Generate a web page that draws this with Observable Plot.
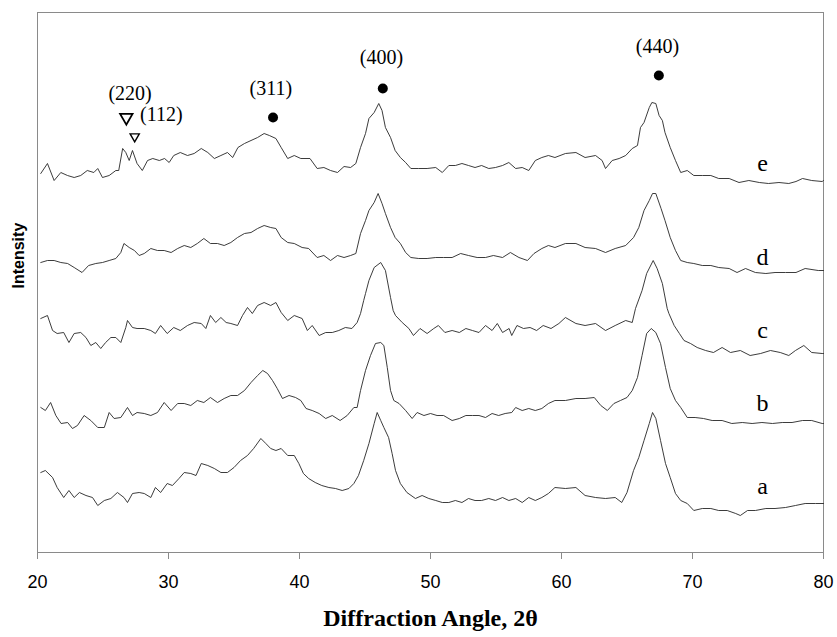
<!DOCTYPE html>
<html><head><meta charset="utf-8">
<script src="https://cdn.jsdelivr.net/npm/d3@7"></script>
<script src="https://cdn.jsdelivr.net/npm/@observablehq/plot@0.6"></script>
<style>body{margin:0;background:#fff}</style>
</head><body><div id="chart"></div>
<script>
// [2θ angle, intensity (arb. units, offset per trace)]
const traceA = [[20.25,80],[20.6,82],[21.15,75],[21.5,65],[22.0,55],[22.4,62],[22.8,55],[23.2,60],[23.7,57],[24.2,55],[24.6,47],[25.1,52],[25.6,54],[26.1,60],[26.6,55],[26.87,50],[27.25,59],[27.76,60],[28.15,59],[28.65,55],[29.0,65],[29.4,60],[29.9,69],[30.3,67],[30.8,74],[31.2,80],[31.7,79],[32.1,77],[32.5,89],[33.0,87],[33.5,84],[34.0,80],[34.5,80],[35.0,85],[35.5,92],[36.03,97],[36.5,104],[37.05,114],[37.43,109],[37.8,104],[38.2,102],[38.6,104],[39.1,97],[39.6,97],[39.95,89],[40.3,79],[40.7,74],[41.2,70],[41.7,67],[42.24,65],[42.75,64],[43.26,62],[43.77,64],[44.15,69],[44.5,77],[44.9,92],[45.3,109],[45.7,129],[45.93,140],[46.2,132],[46.44,125],[46.8,115],[47.07,99],[47.33,82],[47.7,69],[48.2,60],[48.85,54],[49.36,57],[49.87,54],[50.4,52],[50.9,50],[51.4,50],[51.9,52],[52.4,50],[52.9,54],[53.4,52],[53.9,52],[54.45,54],[54.96,52],[55.5,55],[55.98,52],[56.5,54],[57.0,50],[57.5,55],[58.0,52],[58.5,55],[59.0,59],[59.5,65],[60.3,64],[61.1,65],[61.8,57],[62.6,55],[63.36,54],[64.1,55],[64.6,50],[65.0,60],[65.5,82],[65.9,95],[66.3,112],[66.7,129],[66.95,140],[67.2,134],[67.56,112],[67.94,89],[68.3,75],[68.7,59],[69.1,52],[69.6,49],[70.1,42],[70.75,44],[71.4,44],[72.0,42],[72.65,42],[73.3,39],[73.65,37],[74.2,42],[74.8,42],[75.6,44],[76.3,44],[77.1,45],[77.86,47],[78.6,49],[79.4,49],[80.0,49]];
const traceB = [[20.25,145],[20.6,142],[21.0,150],[21.4,137],[21.8,129],[22.3,130],[22.67,124],[23.05,127],[23.56,137],[24.07,132],[24.6,125],[25.1,125],[25.47,140],[25.85,134],[26.36,135],[26.87,145],[27.25,137],[27.6,140],[28.15,139],[28.65,137],[29.16,140],[29.67,150],[30.2,142],[30.7,149],[31.2,149],[31.7,147],[32.2,152],[32.7,150],[33.2,155],[33.74,150],[34.25,154],[34.76,157],[35.27,157],[35.8,162],[36.3,170],[36.8,177],[37.2,182],[37.56,179],[37.94,172],[38.3,164],[38.7,154],[39.2,157],[39.7,155],[40.1,152],[40.5,144],[40.97,142],[41.5,139],[42.0,134],[42.5,137],[43.1,132],[43.64,137],[44.15,145],[44.4,145],[44.66,162],[45.04,182],[45.42,197],[45.8,209],[46.2,210],[46.44,207],[46.7,185],[46.95,162],[47.2,152],[47.6,149],[48.1,142],[48.6,134],[48.98,140],[49.5,137],[50.0,139],[50.5,137],[51.0,137],[51.65,132],[52.2,134],[52.7,137],[53.2,137],[53.7,137],[54.2,135],[54.7,139],[55.2,137],[55.7,139],[56.2,140],[56.5,145],[57.0,142],[57.5,144],[58.0,142],[58.5,144],[59.0,149],[59.5,152],[60.3,152],[61.1,154],[61.8,154],[62.5,155],[63.0,147],[63.5,142],[64.0,149],[64.5,152],[65.0,155],[65.4,162],[65.8,175],[66.15,197],[66.5,219],[66.85,224],[67.2,220],[67.56,209],[67.94,185],[68.3,164],[68.7,152],[69.1,145],[69.6,135],[70.2,135],[70.84,134],[71.5,132],[72.26,132],[73.0,129],[73.8,130],[74.55,129],[75.3,130],[76.1,129],[76.85,130],[77.6,130],[78.4,132],[79.1,132],[79.9,129],[80.0,129]];
const traceC = [[20.25,234],[20.76,237],[21.15,222],[21.5,219],[22.0,220],[22.4,210],[22.8,219],[23.3,220],[23.7,215],[24.07,207],[24.45,210],[24.83,204],[25.2,210],[25.6,215],[25.98,215],[26.36,210],[26.74,225],[26.87,232],[27.25,225],[27.6,224],[28.15,224],[28.65,222],[29.0,219],[29.4,227],[29.9,219],[30.4,225],[30.9,222],[31.45,227],[31.96,230],[32.5,229],[32.85,224],[33.2,237],[33.6,230],[34.0,235],[34.4,230],[34.76,229],[35.27,227],[35.65,237],[36.03,245],[36.4,239],[36.8,247],[37.3,250],[37.8,247],[38.2,250],[38.6,240],[39.1,232],[39.6,237],[40.2,234],[40.6,222],[40.97,227],[41.5,217],[42.0,220],[42.5,220],[43.0,222],[43.5,225],[44.0,224],[44.4,230],[44.66,239],[44.9,252],[45.04,259],[45.3,272],[45.7,285],[46.2,290],[46.56,282],[46.95,255],[47.15,242],[47.33,237],[47.84,230],[48.35,224],[48.7,217],[49.2,224],[49.74,219],[50.25,224],[50.6,227],[51.1,220],[51.65,222],[52.2,220],[52.7,224],[53.2,222],[53.7,220],[54.2,227],[54.7,222],[55.1,229],[55.5,220],[56.0,224],[56.2,217],[56.6,227],[57.1,224],[57.6,225],[58.1,222],[58.6,227],[59.2,224],[59.8,229],[60.3,235],[61.1,229],[61.8,227],[62.6,229],[63.36,222],[64.1,227],[64.9,232],[65.4,230],[65.65,244],[66.15,262],[66.5,279],[67.0,292],[67.3,284],[67.7,269],[68.07,244],[68.2,239],[68.6,227],[69.0,219],[69.35,212],[69.85,209],[70.36,205],[71.0,202],[71.6,200],[72.26,205],[72.9,200],[73.65,202],[74.4,197],[75.2,199],[75.95,202],[76.7,200],[77.35,197],[77.86,202],[78.5,207],[79.1,200],[79.9,199],[80.0,199]];
const traceD = [[20.25,290],[20.76,292],[21.27,292],[21.78,290],[22.3,289],[22.8,285],[23.4,280],[23.9,287],[24.45,289],[24.96,290],[25.47,292],[25.98,294],[26.36,300],[26.6,309],[27.0,305],[27.4,302],[27.76,297],[28.15,299],[28.65,304],[29.16,302],[29.67,302],[30.2,300],[30.7,304],[31.2,307],[31.7,305],[32.2,309],[32.7,314],[33.2,309],[33.74,309],[34.25,307],[34.76,310],[35.27,315],[35.8,319],[36.3,320],[36.8,324],[37.3,327],[37.8,325],[38.2,324],[38.6,315],[39.1,310],[39.6,309],[40.2,305],[40.7,304],[41.35,295],[41.86,297],[42.37,292],[42.9,297],[43.4,295],[43.9,297],[44.3,299],[44.66,319],[45.04,332],[45.3,342],[45.7,350],[46.0,359],[46.3,349],[46.56,339],[46.95,325],[47.3,315],[47.7,309],[48.1,300],[48.5,295],[49.1,294],[49.74,294],[50.4,295],[51.0,295],[51.65,295],[52.3,299],[52.9,297],[53.56,295],[54.2,295],[54.8,297],[55.5,295],[56.1,300],[56.75,295],[57.4,292],[57.9,299],[58.5,304],[59.0,307],[59.5,305],[60.3,309],[61.1,309],[61.8,305],[62.6,304],[63.36,300],[64.1,304],[64.9,307],[65.5,315],[65.9,325],[66.3,342],[66.7,352],[66.95,359],[67.2,359],[67.6,344],[67.9,332],[68.3,315],[68.7,302],[69.1,292],[69.6,290],[70.1,289],[70.75,287],[71.4,287],[72.0,285],[72.8,284],[73.4,280],[74.05,284],[74.8,280],[75.6,279],[76.3,280],[77.1,280],[77.9,280],[78.6,284],[79.6,282],[80.0,282]];
const traceE = [[20.25,379],[20.76,389],[21.27,372],[21.78,380],[22.29,377],[22.8,375],[23.3,377],[23.8,382],[24.3,380],[24.6,384],[24.96,375],[25.47,377],[25.98,382],[26.2,382],[26.5,404],[26.74,400],[27.0,392],[27.25,402],[27.6,389],[28.0,382],[28.4,392],[28.8,394],[29.3,392],[29.7,394],[30.05,390],[30.4,397],[30.9,400],[31.45,397],[31.96,399],[32.5,404],[33.0,400],[33.5,394],[34.0,397],[34.5,400],[34.9,395],[35.3,405],[35.8,409],[36.3,412],[36.8,415],[37.3,419],[37.7,417],[38.2,414],[38.6,405],[39.1,394],[39.6,397],[40.1,394],[40.8,394],[41.35,384],[41.86,385],[42.37,382],[42.9,380],[43.4,386],[43.9,385],[44.3,389],[44.66,405],[45.04,419],[45.3,434],[45.7,440],[46.05,449],[46.3,442],[46.56,425],[46.95,415],[47.3,402],[47.7,395],[48.1,390],[48.5,384],[49.1,384],[49.74,384],[50.4,385],[50.9,380],[51.4,387],[51.9,387],[52.4,389],[52.9,387],[53.4,385],[53.9,387],[54.45,384],[54.96,385],[55.5,387],[55.98,390],[56.5,384],[57.0,385],[57.5,382],[58.0,392],[58.5,395],[59.0,397],[59.5,395],[60.3,399],[61.1,400],[61.8,395],[62.6,397],[63.1,392],[63.36,384],[63.87,392],[64.4,394],[64.9,397],[65.4,404],[65.8,407],[66.03,425],[66.3,430],[66.7,445],[66.9,450],[67.2,449],[67.45,437],[67.7,432],[67.9,420],[68.3,405],[68.7,392],[69.1,380],[69.6,382],[70.1,377],[70.75,377],[71.4,377],[72.0,374],[72.8,374],[73.55,370],[74.3,372],[75.1,370],[75.8,369],[76.6,370],[77.35,369],[77.9,371],[78.4,374],[79.1,372],[79.9,371],[80.0,372]];

const seriesNames = ["a", "b", "c", "d", "e"];
const xTicks = [20, 30, 40, 50, 60, 70, 80];

// peak annotations
const peakLabels = ["(220)", "(112)", "(311)", "(400)", "(440)"];
const peakLabelAngle = [27.07, 29.45, 37.81, 46.26, 67.33];
const peakLabelIntensity = [459, 438, 464, 495, 506];
const spinelAngle = [37.98, 46.36, 67.43];      // ● markers
const spinelIntensity = [435, 464, 477];
const nablaBigAngle = [26.78], nablaBigIntensity = [435];   // ∇ (220)
const nablaSmallAngle = [27.42], nablaSmallIntensity = [416]; // ∇ (112)
const seriesLabelAngle = [75.34, 75.34, 75.34, 75.34, 75.34];
const seriesLabelIntensity = [66, 149, 222, 295, 389];

const traces = [traceA, traceB, traceC, traceD, traceE];
const rows = traces.flatMap((t, i) => t.map(([angle, intensity]) => ({series: seriesNames[i], angle, intensity})));

const serif = "'Liberation Serif', 'Times New Roman', Times, serif";
const sans = "'Liberation Sans', Arial, Helvetica, sans-serif";

const chart = Plot.plot({
  width: 837,
  height: 637,
  marginTop: 12,
  marginBottom: 85,
  marginLeft: 37,
  marginRight: 14,
  x: {domain: [20, 80]},
  y: {domain: [0, 540], axis: null},
  style: {fontFamily: sans, fontSize: "18px", color: "#000", background: "#fff"},
  marks: [
    Plot.frame({stroke: "#8a8a8a"}),
    Plot.axisX({ticks: xTicks, tickSize: 7, tickPadding: 16, stroke: "#8a8a8a", fill: "#000", label: null, fontSize: 18, tickFormat: d => String(d)}),
    Plot.line(rows, {x: "angle", y: "intensity", z: "series", stroke: "#262626", strokeWidth: 0.9}),
    Plot.text(peakLabels, {x: (d, i) => peakLabelAngle[i], y: (d, i) => peakLabelIntensity[i], text: d => d, fontFamily: serif, fontSize: 20, fill: "#000"}),
    Plot.dot(spinelAngle, {x: d => d, y: (d, i) => spinelIntensity[i], r: 5, fill: "#000", stroke: null}),
    Plot.dot(nablaBigAngle, {x: d => d, y: (d, i) => nablaBigIntensity[i], symbol: "triangle", rotate: 180, r: 4.6, fill: "none", stroke: "#000", strokeWidth: 1.8}),
    Plot.dot(nablaSmallAngle, {x: d => d, y: (d, i) => nablaSmallIntensity[i], symbol: "triangle", rotate: 180, r: 3.4, fill: "none", stroke: "#000", strokeWidth: 1.4}),
    Plot.text(seriesNames, {x: (d, i) => seriesLabelAngle[i], y: (d, i) => seriesLabelIntensity[i], text: d => d, fontFamily: serif, fontSize: 24, fill: "#000"}),
    Plot.text(["Diffraction Angle, 2θ"], {frameAnchor: "bottom", dy: 73, text: d => d, fontFamily: serif, fontWeight: "bold", fontSize: 24, fill: "#000"}),
    Plot.text(["Intensity"], {frameAnchor: "left", dx: -19, dy: 6, rotate: -90, text: d => d, fontFamily: sans, fontWeight: "bold", fontSize: 16, fill: "#000"})
  ]
});
document.getElementById("chart").appendChild(chart);
</script>
</body></html>
